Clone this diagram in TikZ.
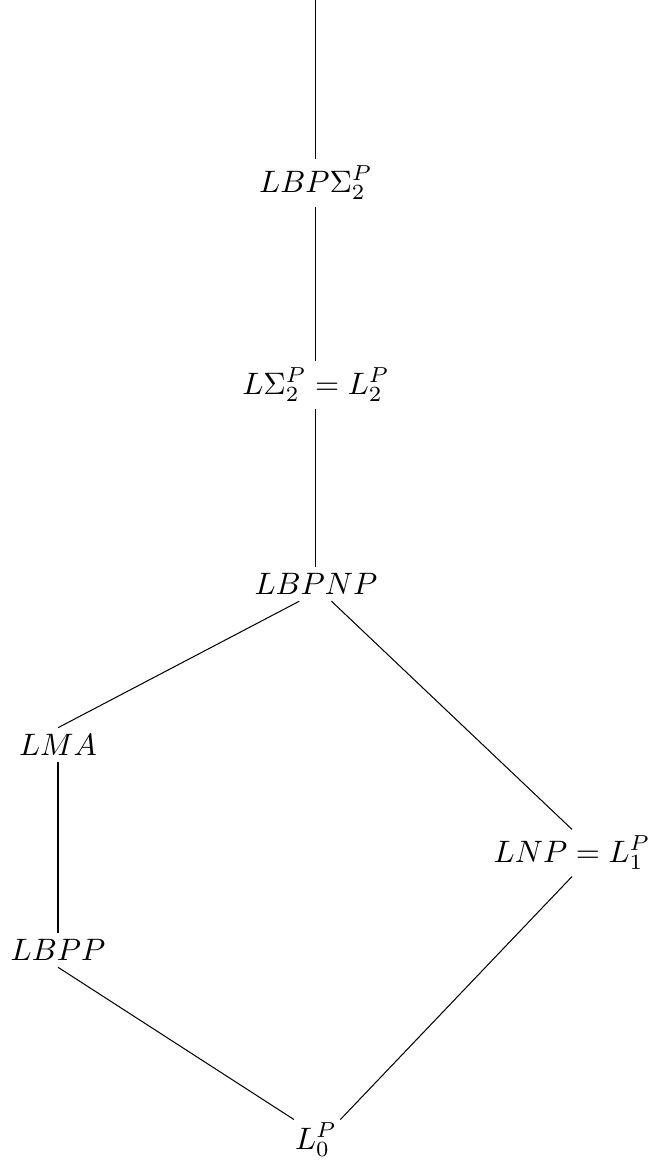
\documentclass[tikz,border=0pt]{standalone}
\begin{document}
\begin{tikzpicture}[lbl/.style={inner sep=2pt, scale=0.9, transform shape}, every path/.style={line width=0.3pt}]
\useasboundingbox (0,0) rectangle (6.673,11.847);
\coordinate (top) at (3.224,11.847);
\node[lbl] (lbps) at (3.224,9.98) {$LBP\Sigma_2^P$};
\node[lbl] (ls) at (3.224,7.918) {$L\Sigma_2^P = L_2^P$};
\node[lbl] (lbpnp) at (3.224,5.888) {$LBPNP$};
\node[lbl] (lma) at (0.592,4.245) {$LMA$};
\node[lbl] (lnp) at (5.837,3.143) {$LNP = L_1^P$};
\node[lbl] (lbpp) at (0.592,2.153) {$LBPP$};
\node[lbl, inner sep=1pt] (l0) at (3.224,0.214) {$L_0^P$};
\draw (top) -- (lbps);
\draw (lbps) -- (ls);
\draw (ls) -- (lbpnp);
\draw (lbpnp.226) -- (lma.north);
\draw (lbpnp.312) -- (lnp.north);
\draw (lma) -- (lbpp);
\draw (lnp.south) -- (l0.40);
\draw (lbpp.south) -- (l0.137);
\end{tikzpicture}
\end{document}
